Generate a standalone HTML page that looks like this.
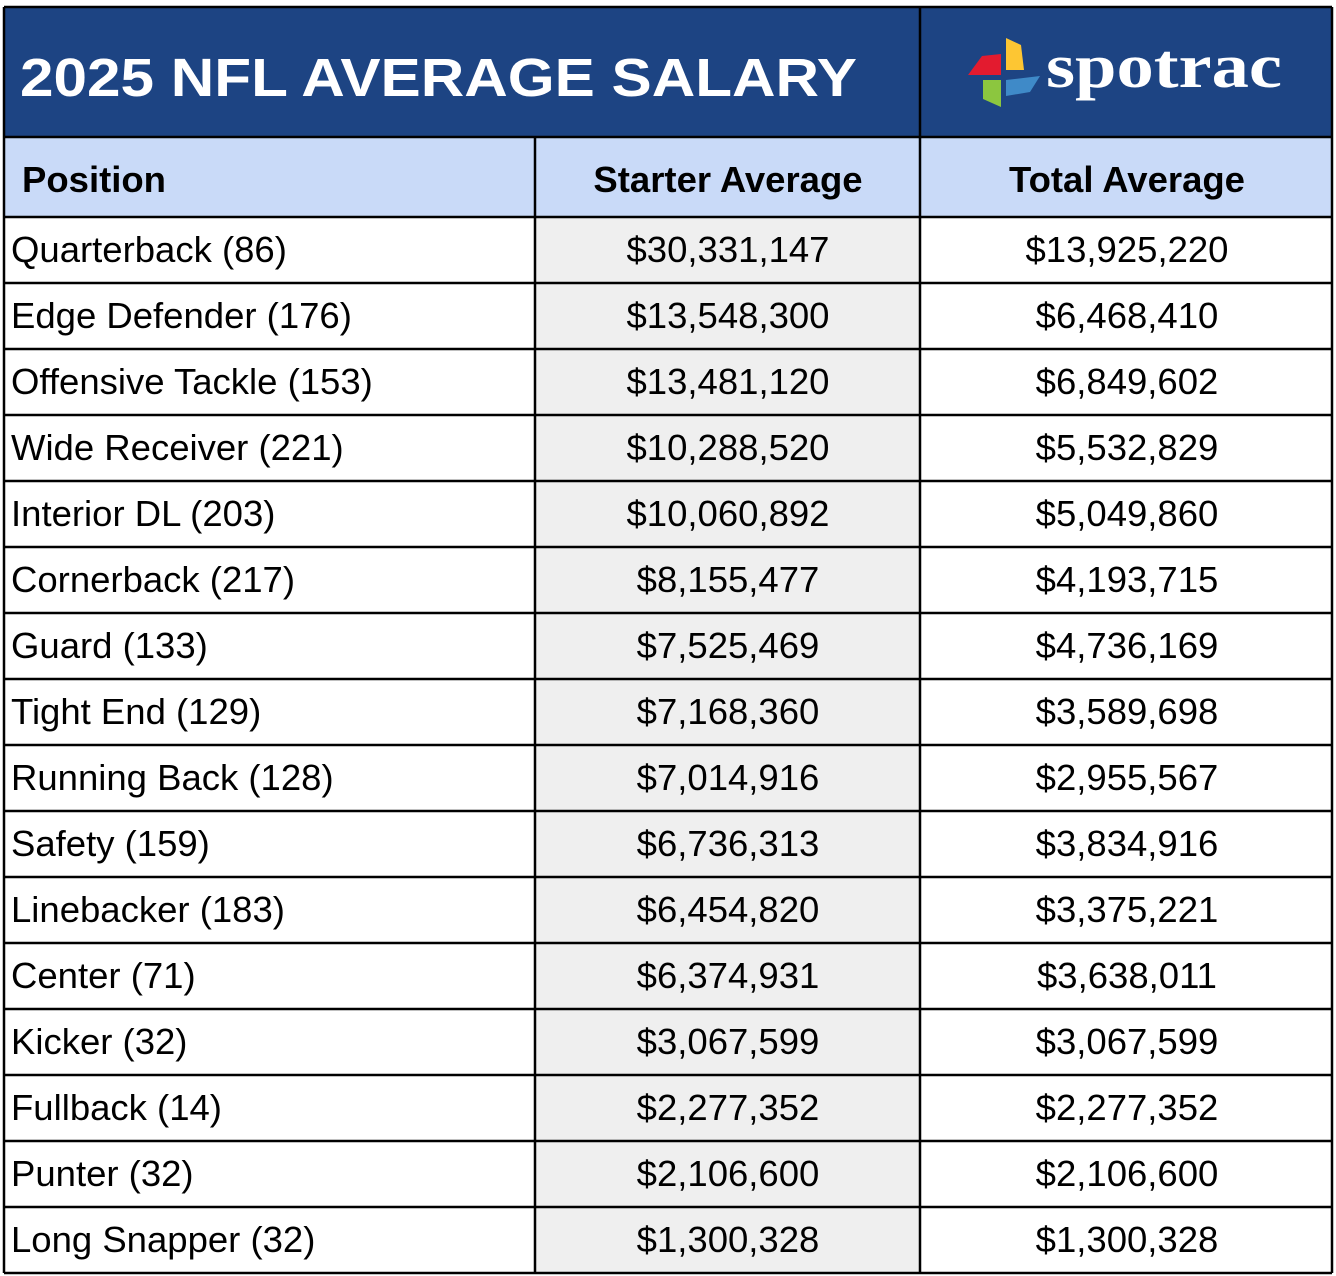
<!DOCTYPE html>
<html><head><meta charset="utf-8"><style>
html,body{margin:0;padding:0;background:#fff}
svg{display:block}
text{font-family:"Liberation Sans",Arial,sans-serif}
</style></head><body>
<svg id="t" width="1336" height="1276" viewBox="0 0 1336 1276" xmlns="http://www.w3.org/2000/svg">
<rect x="4" y="7" width="1328" height="130" fill="#1d4483"/>
<rect x="4" y="137" width="1328" height="80" fill="#c9daf8"/>
<rect x="535" y="217" width="385" height="1056" fill="#efefef"/>
<text x="20" y="96" fill="#fff" font-weight="bold" font-size="54" textLength="837" lengthAdjust="spacingAndGlyphs">2025 NFL AVERAGE SALARY</text>
<g>
<polygon points="968,75 982,56 1001,54 1001,75" fill="#e31b2f"/>
<polygon points="1006,38 1021,45 1024,70 1006,70" fill="#fdc633"/>
<polygon points="983,80 1001,80 1001,107 983,99" fill="#8cc63f"/>
<polygon points="1006,80 1040,76 1030,92 1006,96" fill="#3f8ac8"/>
<text x="1046" y="87" fill="#fff" font-weight="bold" font-size="62" textLength="236" lengthAdjust="spacingAndGlyphs" style="font-family:'Liberation Serif',serif">spotrac</text>
</g>
<text x="22" y="192" font-weight="bold" font-size="36.5">Position</text>
<text x="728" y="192" font-weight="bold" font-size="36.5" text-anchor="middle">Starter Average</text>
<text x="1127" y="192" font-weight="bold" font-size="36.5" text-anchor="middle">Total Average</text>
<g id="rows"></g>
<g id="lines" stroke="#000" stroke-width="2.5"></g>
</svg>
<script>
const positions=["Quarterback (86)","Edge Defender (176)","Offensive Tackle (153)","Wide Receiver (221)","Interior DL (203)","Cornerback (217)","Guard (133)","Tight End (129)","Running Back (128)","Safety (159)","Linebacker (183)","Center (71)","Kicker (32)","Fullback (14)","Punter (32)","Long Snapper (32)"];
const starterAvg=[30331147,13548300,13481120,10288520,10060892,8155477,7525469,7168360,7014916,6736313,6454820,6374931,3067599,2277352,2106600,1300328];
const totalAvg=[13925220,6468410,6849602,5532829,5049860,4193715,4736169,3589698,2955567,3834916,3375221,3638011,3067599,2277352,2106600,1300328];
const NS="http://www.w3.org/2000/svg";
const rows=document.getElementById('rows');
const lines=document.getElementById('lines');
const fmt=v=>'$'+v.toLocaleString('en-US');
const rowY=i=>217+i*66;
function txt(x,y,s,anchor,name){
  const t=document.createElementNS(NS,'text');
  t.setAttribute('x',x);t.setAttribute('y',y);t.setAttribute('font-size','36.5');
  if(anchor)t.setAttribute('text-anchor',anchor);
  t.textContent=s;
  
  
  rows.appendChild(t);
}
positions.forEach((p,i)=>{
  const y=rowY(i)+45;
  txt(11,y,p,null,'position-label');
  txt(728,y,fmt(starterAvg[i]),'middle','starter-average-value');
  txt(1127,y,fmt(totalAvg[i]),'middle','total-average-value');
});
function line(x1,y1,x2,y2){
  const l=document.createElementNS(NS,'line');
  l.setAttribute('x1',x1);l.setAttribute('y1',y1);l.setAttribute('x2',x2);l.setAttribute('y2',y2);
  
  
  lines.appendChild(l);
}
line(4,7,1332,7);line(4,137,1332,137);
for(let i=0;i<=positions.length;i++)line(4,rowY(i),1332,rowY(i));
line(4,7,4,1273);line(1332,7,1332,1273);
line(920,7,920,1273);line(535,137,535,1273);
</script>
</body></html>
